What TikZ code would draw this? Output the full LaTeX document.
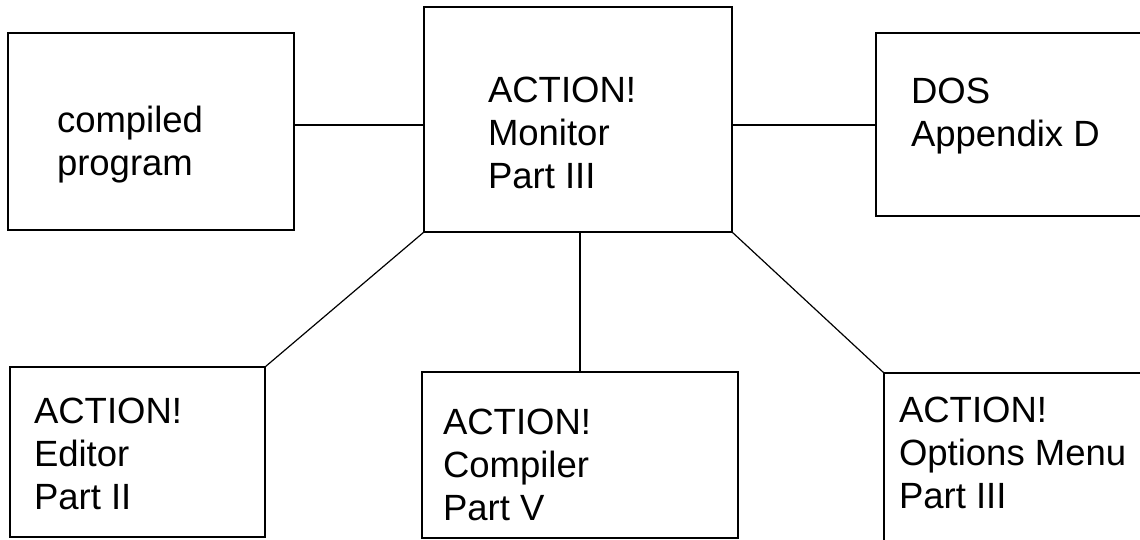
\documentclass[tikz,border=0pt]{standalone}
\usepackage{fontspec}
\setmainfont{Liberation Sans}
\usetikzlibrary{positioning}
\begin{document}
\begin{tikzpicture}[x=1pt,y=-1pt]
            \tikzstyle{every node}+=[inner sep=0pt, outer sep=0pt]
            \tikzstyle{box}=[draw=black, line width=1.5pt, rectangle, anchor=north west]
            \tikzstyle{txt}=[anchor=north west, align=left, font=\fontsize{36.5}{43}\selectfont]
            \clip (0,0) rectangle (1140,540);
            \node [box, minimum width=286pt, minimum height=197pt] (prog) at (8,33) {};
            \node [box, minimum width=308pt, minimum height=225pt] (mon) at (424,7) {};
            \node [box, minimum width=280pt, minimum height=183pt] (dos) at (876,33) {};
            \node [box, minimum width=255pt, minimum height=170pt] (edit) at (10,367) {};
            \node [box, minimum width=316pt, minimum height=166pt] (comp) at (422,372) {};
            \node [box, minimum width=270pt, minimum height=180pt] (opt) at (884,373) {};
            \node [txt] (progtxt) at (57,106) {compiled\\program};
            \node [txt] (montxt) at (488,77) {ACTION!\\Monitor\\Part III};
            \node [txt] (dostxt) at (911,78) {DOS\\Appendix D};
            \node [txt] (edittxt) at (34,398) {ACTION!\\Editor\\Part II};
            \node [txt] (comptxt) at (443,409) {ACTION!\\Compiler\\Part V};
            \node [txt] (opttxt) at (899,397) {ACTION!\\Options Menu\\Part III};
            \coordinate (hline) at (0,125);
            \draw [black, line width=1.5pt] (prog.east |- hline) -- (mon.west |- hline);
            \draw [black, line width=1.5pt] (mon.east |- hline) -- (dos.west |- hline);
            \draw [black, line width=1.2pt] (mon.south west) -- (edit.north east);
            \draw [black, line width=1.5pt] (comp.north) -- (comp.north |- mon.south);
            \draw [black, line width=1.2pt] (mon.south east) -- (opt.north west);
        \end{tikzpicture}
\end{document}
